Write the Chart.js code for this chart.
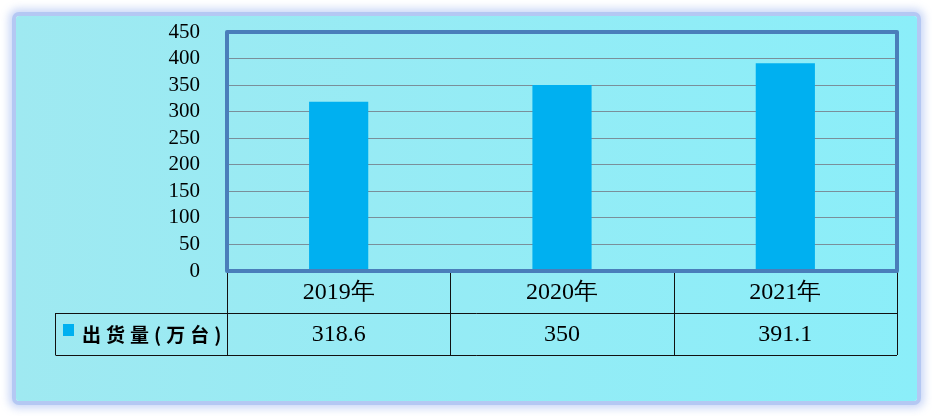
<!DOCTYPE html>
<html>
<head>
<meta charset="utf-8">
<script src="https://cdn.jsdelivr.net/npm/chart.js@4.4.0/dist/chart.umd.min.js"></script>
<style>
  html, body { margin: 0; padding: 0; background: #fff; }
  #frame {
    position: absolute; left: 16px; top: 16px; width: 901px; height: 385px;
    background: linear-gradient(to right, #9fe9f1, #8beef9);
    box-shadow: 0 0 0 4px #b4c8f3, 0 0 8px 7px rgba(185, 202, 244, 0.8);
    border-radius: 3px;
  }
  #wrap { position: absolute; left: 0; top: 0; width: 932px; height: 416px; }
</style>
</head>
<body>
<div id="frame"></div>
<div id="wrap"><canvas id="chart" width="932" height="416"></canvas></div>
<script>
// Chart data
const categories = ['2019年', '2020年', '2021年'];
const seriesName = '出货量(万台)';
const shipments = [318.6, 350, 391.1];
const shipmentLabels = ['318.6', '350', '391.1'];
const yTicks = [0, 50, 100, 150, 200, 250, 300, 350, 400, 450];

const barColor = '#00b0f0';
const serif = '"Liberation Serif", "DejaVu Serif", serif';

// Plot border + data table under the axis
const dataTablePlugin = {
  id: 'dataTable',
  afterDraw(chart) {
    const ctx = chart.ctx;
    const area = chart.chartArea;
    const x = chart.scales.x;
    const rowH = 42;
    const legendLeft = 55;
    const top = area.bottom;
    const step = (area.right - area.left) / categories.length;

    ctx.save();
    // table lines
    ctx.strokeStyle = '#111';
    ctx.lineWidth = 1;
    ctx.beginPath();
    for (let i = 0; i <= categories.length; i++) {
      const cx = Math.round(area.left + step * i) + 0.5;
      ctx.moveTo(cx, top);
      ctx.lineTo(cx, top + rowH * 2);
    }
    ctx.moveTo(legendLeft + 0.5, top + rowH + 0.5);
    ctx.lineTo(area.right, top + rowH + 0.5);
    ctx.moveTo(legendLeft + 0.5, top + rowH * 2 + 0.5);
    ctx.lineTo(area.right, top + rowH * 2 + 0.5);
    ctx.moveTo(legendLeft + 0.5, top + rowH);
    ctx.lineTo(legendLeft + 0.5, top + rowH * 2);
    ctx.stroke();

    // plot border
    ctx.strokeStyle = '#4a7eba';
    ctx.lineWidth = 4;
    ctx.lineJoin = 'round';
    ctx.strokeRect(area.left, area.top, area.right - area.left, area.bottom - area.top);

    // header + values
    ctx.fillStyle = '#000';
    ctx.textAlign = 'center';
    ctx.textBaseline = 'middle';
    ctx.font = '24px ' + serif;
    categories.forEach((c, i) => {
      const cx = x.getPixelForValue(i);
      ctx.fillText(c, cx, top + rowH / 2 + 1);
      ctx.fillText(shipmentLabels[i], cx, top + rowH * 1.5 + 1);
    });

    // legend cell
    ctx.fillStyle = barColor;
    ctx.fillRect(63, top + rowH + 11, 11, 12);
    ctx.fillStyle = '#000';
    ctx.textAlign = 'left';
    ctx.font = 'bold 19px "Noto Sans CJK SC", sans-serif';
    ctx.letterSpacing = '5px';
    ctx.fillText(seriesName, 82, top + rowH * 1.5 + 1);
    ctx.restore();
  }
};

new Chart(document.getElementById('chart'), {
  type: 'bar',
  data: {
    labels: categories,
    datasets: [{
      label: seriesName,
      data: shipments,
      backgroundColor: barColor,
      borderWidth: 0,
      barPercentage: 0.265,
      categoryPercentage: 1
    }]
  },
  options: {
    responsive: false,
    animation: false,
    layout: { padding: { top: 32, right: 35, bottom: 145, left: 0 } },
    plugins: { legend: { display: false }, tooltip: { enabled: false } },
    scales: {
      x: { display: false, offset: true },
      y: {
        min: 0,
        max: 450,
        afterFit(scale) {
          scale.width = 227;
          scale.paddingTop = 0;
          scale.paddingBottom = 0;
        },
        afterBuildTicks(scale) { scale.ticks = yTicks.map(v => ({ value: v })); },
        border: { display: false },
        grid: {
          color: '#7a8f9a',
          lineWidth: 1,
          drawTicks: false
        },
        ticks: {
          color: '#000',
          padding: 27,
          autoSkip: false,
          font: { family: serif, size: 21 }
        }
      }
    }
  },
  plugins: [dataTablePlugin]
});
</script>
</body>
</html>
